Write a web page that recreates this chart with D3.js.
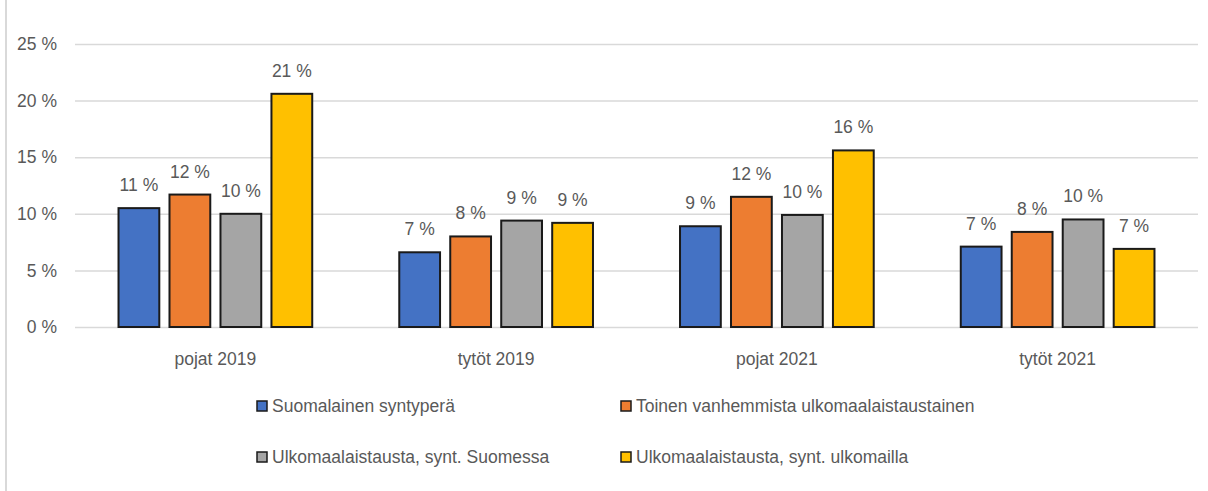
<!DOCTYPE html>
<html>
<head>
<meta charset="utf-8">
<script src="https://cdn.jsdelivr.net/npm/d3@7"></script>
<style>
  body { margin: 0; background: #fff; }
  svg { display: block; font-family: "Liberation Sans", Arial, sans-serif; }
</style>
</head>
<body>
<svg id="chart" width="1208" height="491"></svg>
<script>
const categories = ["pojat 2019", "tytöt 2019", "pojat 2021", "tytöt 2021"]
const seriesNames = ["Suomalainen syntyperä", "Toinen vanhemmista ulkomaalaistaustainen",
  "Ulkomaalaistausta, synt. Suomessa", "Ulkomaalaistausta, synt. ulkomailla"]
const seriesColors = ["#4472C4", "#ED7D31", "#A5A5A5", "#FFC000"]
// values in percent, by series, in category order
const suomalainen = [10.5, 6.6, 8.9, 7.1]
const toinen = [11.7, 8.0, 11.5, 8.4]
const syntSuomessa = [10.0, 9.4, 9.9, 9.5]
const syntUlkomailla = [20.6, 9.2, 15.6, 6.9]
const yTicks = [0, 5, 10, 15, 20, 25]

const series = [suomalainen, toinen, syntSuomessa, syntUlkomailla]
const data = categories.map((c, i) => ({
  category: c,
  values: series.map((s, j) => ({ name: seriesNames[j], value: s[i] }))
}))

const svg = d3.select('#chart')
const textColor = "#595959"
const fontSize = 17.5

// left border
svg.append('line')
  .attr('x1', 6).attr('x2', 6).attr('y1', 0).attr('y2', 491)
  .attr('stroke', '#d9d9d9').attr('stroke-width', 2)

const plotLeft = 75, plotRight = 1198, plotTop = 44, plotBottom = 327

const yScale = d3.scaleLinear().domain([0, 25]).range([plotBottom, plotTop])
const x0 = d3.scaleBand().domain(categories).range([plotLeft, plotRight])
  .paddingInner(0.31).paddingOuter(0.155)
const x1 = d3.scaleBand().domain(seriesNames).range([0, x0.bandwidth()]).paddingInner(0.2)
const color = d3.scaleOrdinal().domain(seriesNames).range(seriesColors)

// gridlines + y labels
const yAxis = d3.axisLeft(yScale).tickValues(yTicks).tickSize(-(plotRight - plotLeft)).tickFormat(d => `${d} %`).tickPadding(18)
const yg = svg.append('g').attr('transform', `translate(${plotLeft},0)`).call(yAxis)
yg.select('.domain').remove()
yg.selectAll('.tick line').attr('stroke', '#d9d9d9').attr('stroke-width', 1.5)
yg.selectAll('.tick text').attr('fill', textColor).attr('font-size', fontSize)
yg.attr('font-family', null)

// x labels
const xAxis = d3.axisBottom(x0).tickSize(0).tickPadding(26)
const xg = svg.append('g').attr('transform', `translate(0,${plotBottom})`).call(xAxis)
xg.select('.domain').remove()
xg.selectAll('.tick text').attr('fill', textColor).attr('font-size', fontSize)
xg.attr('font-family', null)

const groups = svg.append('g').selectAll('g')
  .data(data)
  .join('g')
  .attr('transform', d => `translate(${x0(d.category)},0)`)

groups.selectAll('rect')
  .data(d => d.values)
  .join('rect')
  .attr('x', d => x1(d.name))
  .attr('y', d => yScale(d.value))
  .attr('width', x1.bandwidth())
  .attr('height', d => plotBottom - yScale(d.value))
  .attr('fill', d => color(d.name))
  .attr('stroke', '#1a1a1a')
  .attr('stroke-width', 2)

groups.selectAll('text')
  .data(d => d.values)
  .join('text')
  .attr('x', d => x1(d.name) + x1.bandwidth() / 2)
  .attr('y', d => yScale(d.value) - 17)
  .attr('text-anchor', 'middle')
  .attr('fill', textColor)
  .attr('font-size', fontSize)
  .text(d => `${Math.round(d.value)} %`)

// legend
const legendPos = [[256, 406], [620, 406], [256, 457], [620, 457]]
const legend = svg.append('g').selectAll('g')
  .data(seriesNames)
  .join('g')
  .attr('transform', (d, i) => `translate(${legendPos[i][0]},${legendPos[i][1]})`)
legend.append('rect')
  .attr('x', 1).attr('y', -5).attr('width', 10).attr('height', 10)
  .attr('fill', d => color(d)).attr('stroke', '#1a1a1a').attr('stroke-width', 1.5)
legend.append('text')
  .attr('x', 16).attr('y', 6)
  .attr('fill', textColor)
  .attr('font-size', fontSize)
  .text(d => d)
</script>
</body>
</html>
